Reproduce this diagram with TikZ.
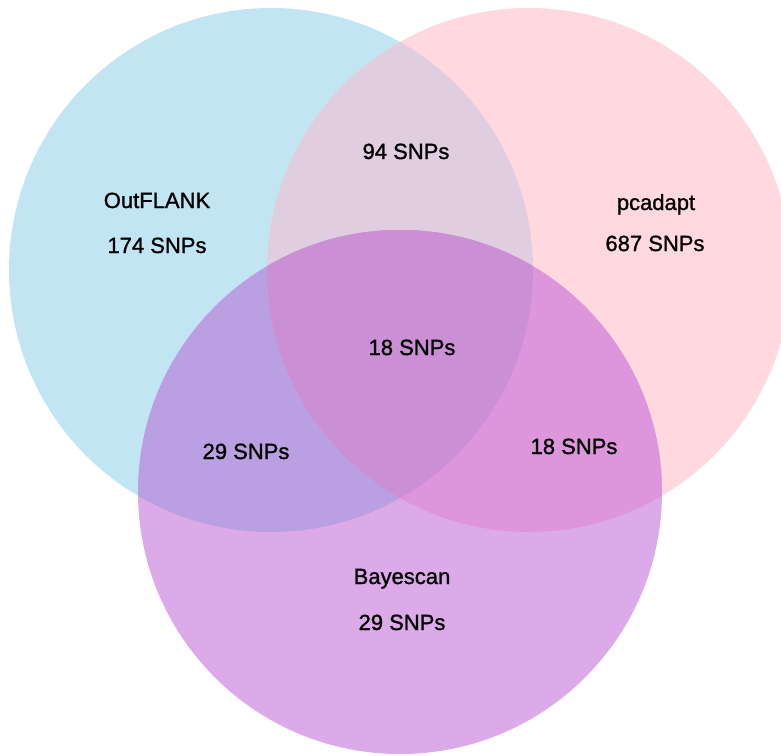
\documentclass[tikz,border=0pt]{standalone}
\usepackage{fontspec}
\setmainfont{Liberation Sans}
\newfontfamily\lblfont[FakeBold=1.2]{Liberation Sans}
\definecolor{cB}{HTML}{C2E5F3}
\definecolor{cP}{HTML}{FFD8E0}
\definecolor{cV}{HTML}{DCAAE8}
\definecolor{cBP}{HTML}{E0CDE0}
\definecolor{cBV}{HTML}{BAA0E2}
\definecolor{cPV}{HTML}{DD96DC}
\definecolor{cAll}{HTML}{CB8FD6}
\begin{document}
\begin{tikzpicture}[x=1pt,y=-1pt,
  lbl/.style={anchor=base,font=\lblfont\fontsize{22}{26}\selectfont,inner sep=0pt}]
\useasboundingbox (0,0) rectangle (781,755);
\clip (0,0) rectangle (781,755);
\def\cblue{(271,270) circle[radius=262]}
\def\cpink{(529,270) circle[radius=262]}
\def\cviol{(400,492) circle[radius=262]}
\fill[cB] \cblue;
\fill[cP] \cpink;
\begin{scope}\clip \cblue; \fill[cBP] \cpink; \end{scope}
\fill[cV] \cviol;
\begin{scope}\clip \cviol; \fill[cBV] \cblue; \end{scope}
\begin{scope}\clip \cviol; \fill[cPV] \cpink; \end{scope}
\begin{scope}\clip \cviol; \clip \cblue; \fill[cAll] \cpink; \end{scope}
\node[lbl] (outflank) at (157,208) {OutFLANK};
\node[lbl] (nout) at (157,253) {174 SNPs};
\node[lbl] (pcadapt) at (656,210) {pcadapt};
\node[lbl] (npca) at (655,251) {687 SNPs};
\node[lbl] (nbp) at (406,159) {94 SNPs};
\node[lbl] (nall) at (412,355) {18 SNPs};
\node[lbl] (nbv) at (246,459) {29 SNPs};
\node[lbl] (npv) at (574,454) {18 SNPs};
\node[lbl] (bayes) at (402,584) {Bayescan};
\node[lbl] (nbay) at (402,630) {29 SNPs};
\end{tikzpicture}
\end{document}
